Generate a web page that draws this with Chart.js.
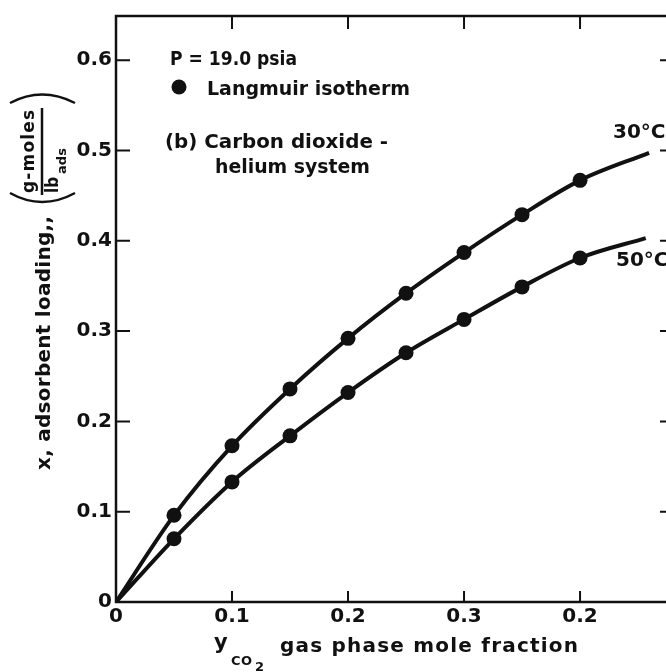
<!DOCTYPE html>
<html>
<head>
<meta charset="utf-8">
<script src="https://cdn.jsdelivr.net/npm/chart.js@4"></script>
<style>
  html, body { margin: 0; padding: 0; background: #fff; overflow: hidden; }
  #wrap { width: 680px; height: 672px; }
</style>
</head>
<body>
<div id="wrap"><canvas id="c" width="680" height="672"></canvas></div>
<script>
// CO2 mole fraction in the gas phase at each measured point
const moleFraction = [0.05, 0.10, 0.15, 0.20, 0.25, 0.30, 0.35, 0.40];
// Adsorbent loading, g-moles per lb adsorbent
const loading30C = [0.096, 0.173, 0.236, 0.292, 0.342, 0.387, 0.429, 0.467];
const loading50C = [0.070, 0.133, 0.184, 0.232, 0.276, 0.313, 0.349, 0.381];
// Where each smoothed isotherm curve stops
const curveEnd30C = [0.4595, 0.4975];
const curveEnd50C = [0.4566, 0.403];
// Axis ticks and their printed labels
const xTickValues = [0, 0.1, 0.2, 0.3, 0.4];
const xTickLabels = ['0', '0.1', '0.2', '0.3', '0.2'];
const yTickValues = [0, 0.1, 0.2, 0.3, 0.4, 0.5, 0.6];
const yTickLabels = ['0', '0.1', '0.2', '0.3', '0.4', '0.5', '0.6'];

const FONT = '"DejaVu Sans", sans-serif';
const INK = '#111';

function curvePoints(ys, end) {
  const pts = [{ x: 0, y: 0 }];
  moleFraction.forEach((x, i) => pts.push({ x, y: ys[i] }));
  pts.push({ x: end[0], y: end[1] });
  return pts;
}
function markerRadii(n) {
  return [0].concat(new Array(n).fill(7.5)).concat([0]);
}

// Draw text with its letters spread (or squeezed) to fill a given width
function spaced(ctx, text, x, y, width) {
  const chars = [...text];
  const widths = chars.map(ch => ctx.measureText(ch).width);
  const natural = widths.reduce((a, b) => a + b, 0);
  let gap = chars.length > 1 ? (width - natural) / (chars.length - 1) : 0;
  let sx = 1;
  if (gap < 0) { sx = width / natural; gap = 0; }
  ctx.save();
  ctx.translate(x, y);
  ctx.scale(sx, 1);
  let cx = 0;
  chars.forEach((ch, i) => { ctx.fillText(ch, cx, 0); cx += widths[i] + gap; });
  ctx.restore();
}

const frameAndText = {
  id: 'frameAndText',
  afterDraw(chart) {
    const ctx = chart.ctx;
    const { left, right, top, bottom } = chart.chartArea;
    const xs = chart.scales.x, ys = chart.scales.y;
    ctx.save();
    ctx.strokeStyle = INK;
    ctx.fillStyle = INK;
    ctx.lineCap = 'butt';

    // frame
    ctx.lineWidth = 2.5;
    ctx.strokeRect(left, top, right - left, bottom - top);

    // inward tick marks on all four sides
    ctx.lineWidth = 2;
    ctx.beginPath();
    xTickValues.slice(1).forEach(v => {
      const px = xs.getPixelForValue(v);
      ctx.moveTo(px, bottom); ctx.lineTo(px, bottom - 11);
      ctx.moveTo(px, top); ctx.lineTo(px, top + 13);
    });
    yTickValues.slice(1).forEach(v => {
      const py = ys.getPixelForValue(v);
      ctx.moveTo(left, py); ctx.lineTo(left + 14, py);
      ctx.moveTo(right, py); ctx.lineTo(right - 11, py);
    });
    ctx.stroke();

    // annotations inside the plot
    ctx.textBaseline = 'alphabetic';
    ctx.textAlign = 'left';
    ctx.font = 'bold 19px ' + FONT;
    spaced(ctx, 'P = 19.0 psia', 170, 65, 127);
    ctx.font = 'bold 20px ' + FONT;
    ctx.beginPath();
    ctx.arc(179, 87, 7.5, 0, Math.PI * 2);
    ctx.fill();
    spaced(ctx, 'Langmuir isotherm', 207, 95, 203);
    spaced(ctx, '(b) Carbon dioxide -', 165, 148, 223);
    spaced(ctx, 'helium system', 215, 173, 155);
    ctx.fillText('30°C', 613, 138);
    ctx.fillText('50°C', 616, 266);

    // x-axis title: y_CO2  gas phase mole fraction
    ctx.font = 'bold 21px ' + FONT;
    ctx.fillText('y', 214, 649);
    ctx.font = 'bold 13px ' + FONT;
    spaced(ctx, 'CO', 231, 665, 21);
    ctx.fillText('2', 255, 671);
    ctx.font = 'bold 20px ' + FONT;
    spaced(ctx, 'gas phase mole fraction', 280, 652, 298);

    // y-axis title, rotated
    ctx.save();
    ctx.translate(50, 470);
    ctx.rotate(-Math.PI / 2);
    ctx.font = 'bold 20px ' + FONT;
    spaced(ctx, 'x, adsorbent loading,,', 0, 0, 254);
    ctx.restore();

    // unit fraction: g-moles over lb_ads
    ctx.save();
    ctx.translate(34, 193);
    ctx.rotate(-Math.PI / 2);
    ctx.font = 'bold 17px ' + FONT;
    spaced(ctx, 'g-moles', 0, 0, 83);
    ctx.restore();
    ctx.save();
    ctx.translate(58, 193);
    ctx.rotate(-Math.PI / 2);
    ctx.font = 'bold 17px ' + FONT;
    spaced(ctx, 'lb', 0, 0, 16);
    ctx.font = 'bold 13px ' + FONT;
    spaced(ctx, 'ads', 19, 8, 26);
    ctx.restore();
    ctx.lineWidth = 2.5;
    ctx.beginPath();
    ctx.moveTo(42, 108); ctx.lineTo(42, 195);
    ctx.stroke();
    // brackets round the unit
    ctx.beginPath();
    ctx.moveTo(10, 103); ctx.quadraticCurveTo(42, 86, 75, 103);
    ctx.moveTo(10, 193); ctx.quadraticCurveTo(42, 211, 75, 193);
    ctx.stroke();

    ctx.restore();
  }
};

new Chart(document.getElementById('c'), {
  type: 'line',
  data: {
    datasets: [
      {
        label: '30°C',
        data: curvePoints(loading30C, curveEnd30C),
        borderColor: INK,
        backgroundColor: INK,
        borderWidth: 4,
        pointRadius: markerRadii(moleFraction.length),
        pointBorderWidth: 0,
        pointBackgroundColor: INK,
        cubicInterpolationMode: 'monotone',
        fill: false
      },
      {
        label: '50°C',
        data: curvePoints(loading50C, curveEnd50C),
        borderColor: INK,
        backgroundColor: INK,
        borderWidth: 4,
        pointRadius: markerRadii(moleFraction.length),
        pointBorderWidth: 0,
        pointBackgroundColor: INK,
        cubicInterpolationMode: 'monotone',
        fill: false
      }
    ]
  },
  options: {
    responsive: false,
    animation: false,
    events: [],
    layout: { padding: { top: 10, right: 9, left: 0, bottom: 0 } },
    plugins: { legend: { display: false }, tooltip: { enabled: false } },
    scales: {
      x: {
        type: 'linear',
        min: 0,
        max: 0.4784,
        grid: { display: false, drawTicks: false },
        border: { display: false },
        afterBuildTicks: s => { s.ticks = xTickValues.map(v => ({ value: v })); },
        afterFit: s => { s.height = 70; },
        ticks: {
          color: INK,
          padding: 3,
          maxRotation: 0,
          autoSkip: false,
          font: { family: FONT, size: 20, weight: 'bold' },
          callback: (v) => xTickLabels[xTickValues.findIndex(t => Math.abs(t - v) < 1e-9)]
        }
      },
      y: {
        type: 'linear',
        min: 0,
        max: 0.649,
        grid: { display: false, drawTicks: false },
        border: { display: false },
        afterBuildTicks: s => { s.ticks = yTickValues.map(v => ({ value: v })); },
        afterFit: s => { s.width = 116; },
        ticks: {
          color: INK,
          padding: 4,
          autoSkip: false,
          font: { family: FONT, size: 20, weight: 'bold' },
          callback: (v) => yTickLabels[yTickValues.findIndex(t => Math.abs(t - v) < 1e-9)]
        }
      }
    }
  },
  plugins: [frameAndText]
});
</script>
</body>
</html>
